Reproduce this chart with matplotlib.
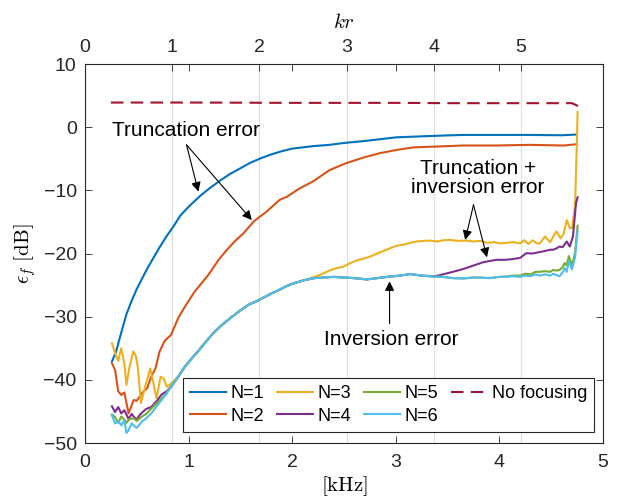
import matplotlib
matplotlib.use("Agg")
import matplotlib.pyplot as plt

plt.rcParams['font.family'] = ['Liberation Sans', 'DejaVu Sans']
plt.rcParams['mathtext.fontset'] = 'cm'

# ---------------- data ----------------
kr_per_khz = 1.188   # kr = kr_per_khz * f[kHz]

f_n1 = [0.26, 0.30, 0.35, 0.40, 0.45, 0.50, 0.55, 0.60, 0.66, 0.72, 0.79, 0.85, 0.92, 1.00,
        1.11, 1.20, 1.30, 1.40, 1.50, 1.60, 1.70, 1.80, 1.90, 2.00, 2.10, 2.20, 2.36, 2.50,
        2.69, 2.85, 3.01, 3.17, 3.33, 3.50, 3.65, 4.00, 4.30, 4.60, 4.74]
e_n1 = [-37.1, -35.5, -32.5, -29.6, -27.5, -25.6, -24.0, -22.4, -20.7, -19.0, -17.2, -15.8, -14.0, -12.6,
        -10.9, -9.7, -8.5, -7.4, -6.5, -5.6, -4.9, -4.3, -3.8, -3.4, -3.2, -3.0, -2.8, -2.5,
        -2.2, -1.9, -1.6, -1.5, -1.4, -1.3, -1.23, -1.23, -1.23, -1.28, -1.17]

f_n2 = [0.26, 0.29, 0.32, 0.35, 0.38, 0.42, 0.47, 0.50, 0.55, 0.60, 0.64, 0.68, 0.72, 0.77,
        0.83, 0.90, 0.965, 1.06, 1.13, 1.19, 1.29, 1.37, 1.45, 1.53, 1.63, 1.75, 1.88, 1.95,
        2.07, 2.20, 2.36, 2.52, 2.69, 2.85, 3.01, 3.17, 3.33, 3.50, 3.65, 3.97, 4.29, 4.62, 4.75]
e_n2 = [-37.4, -38.4, -41.8, -42.4, -42.0, -45.3, -43.2, -43.3, -42.1, -41.3, -39.5, -38.2, -35.5, -33.8,
        -32.9, -30.2, -28.4, -26.0, -24.6, -23.4, -21.0, -19.4, -18.0, -16.8, -14.9, -13.4, -11.5, -11.0,
        -9.7, -8.6, -6.8, -5.7, -4.8, -4.1, -3.6, -3.2, -3.1, -3.0, -2.9, -2.9, -2.8, -2.9, -2.7]

f_n3 = [0.26, 0.29, 0.32, 0.35, 0.38, 0.40, 0.43, 0.466, 0.49, 0.51, 0.54, 0.58, 0.63, 0.66,
        0.69, 0.73, 0.76, 0.79, 0.83, 0.90, 0.965, 1.03, 1.09, 1.17, 1.25, 1.33, 1.42, 1.50,
        1.58, 1.65, 1.71, 1.79, 1.87, 1.94, 2.00, 2.06, 2.12, 2.20, 2.28, 2.36, 2.43, 2.49,
        2.55, 2.62, 2.69, 2.75, 2.82, 2.88, 2.94, 3.00, 3.07, 3.14, 3.20, 3.27, 3.33, 3.40,
        3.46, 3.52, 3.60, 3.68, 3.75, 3.82, 3.88, 3.95, 4.01, 4.07, 4.13, 4.20, 4.24, 4.28,
        4.32, 4.36, 4.39, 4.44, 4.49, 4.52, 4.55, 4.59, 4.62, 4.65, 4.68, 4.70, 4.73, 4.745, 4.755]
e_n3 = [-34.2, -35.8, -37.0, -35.0, -37.5, -40.8, -37.9, -35.5, -36.2, -38.0, -43.7, -41.1, -38.2, -40.5,
        -42.9, -39.5, -39.8, -41.1, -40.6, -39.5, -37.9, -36.6, -35.5, -33.9, -32.4, -31.2, -30.0, -29.0,
        -28.1, -27.6, -27.1, -26.4, -25.8, -25.2, -24.8, -24.5, -24.2, -23.8, -23.3, -22.7, -22.3, -22.1,
        -21.6, -21.1, -20.8, -20.5, -20.0, -19.6, -19.2, -18.8, -18.6, -18.3, -18.1, -18.0, -17.95, -18.1,
        -17.9, -17.85, -18.0, -17.95, -18.1, -18.0, -18.3, -18.2, -18.4, -18.3, -18.2, -18.4, -17.9, -18.5,
        -17.9, -18.4, -18.4, -17.3, -18.2, -17.3, -16.5, -17.6, -16.9, -14.7, -16.0, -16.0, -12.6, -4.0, 2.4]

f_n4 = [0.26, 0.29, 0.32, 0.35, 0.38, 0.42, 0.45, 0.48, 0.50, 0.53, 0.59, 0.64, 0.69, 0.74,
        0.79, 0.84, 0.90, 0.965, 1.03, 1.09, 1.17, 1.25, 1.33, 1.42, 1.50, 1.58, 1.65, 1.71,
        1.79, 1.87, 1.94, 2.00, 2.06, 2.12, 2.21, 2.30, 2.40, 2.50, 2.60, 2.72, 2.82, 2.94,
        3.04, 3.14, 3.25, 3.38, 3.43, 3.48, 3.55, 3.62, 3.68, 3.75, 3.84, 3.90, 3.97, 4.05,
        4.12, 4.20, 4.26, 4.32, 4.38, 4.44, 4.49, 4.52, 4.55, 4.58, 4.61, 4.65, 4.68, 4.71, 4.74, 4.755]
e_n4 = [-44.2, -45.1, -44.3, -45.3, -44.8, -46.2, -45.4, -46.0, -46.3, -45.5, -44.6, -44.3, -43.4, -42.3,
        -41.8, -40.9, -39.5, -37.9, -36.6, -35.5, -33.9, -32.4, -31.2, -30.0, -29.0, -28.1, -27.6, -27.1,
        -26.4, -25.8, -25.2, -24.8, -24.5, -24.2, -23.9, -23.8, -23.7, -23.8, -23.9, -24.1, -23.9, -23.65,
        -23.5, -23.25, -23.5, -23.6, -23.4, -23.2, -22.9, -22.6, -22.3, -21.9, -21.4, -21.2, -21.0, -21.0,
        -20.9, -20.7, -19.95, -20.0, -19.8, -19.6, -19.4, -19.4, -19.2, -18.9, -19.0, -18.1, -18.9, -17.3, -12.0, -11.1]

f_n5 = [0.26, 0.29, 0.32, 0.35, 0.38, 0.40, 0.43, 0.47, 0.50, 0.55, 0.59, 0.66, 0.72, 0.79,
        0.84, 0.90, 0.965, 1.03, 1.09, 1.17, 1.25, 1.33, 1.42, 1.50, 1.58, 1.65, 1.71, 1.79,
        1.87, 1.94, 2.00, 2.06, 2.12, 2.21, 2.30, 2.40, 2.50, 2.60, 2.72, 2.82, 2.94, 3.04,
        3.14, 3.25, 3.36, 3.45, 3.55, 3.65, 3.75, 3.81, 3.90, 4.00, 4.07, 4.13, 4.20, 4.25,
        4.30, 4.35, 4.39, 4.44, 4.49, 4.52, 4.55, 4.58, 4.61, 4.63, 4.65, 4.67, 4.70, 4.73, 4.755]
e_n5 = [-45.5, -45.9, -46.8, -45.8, -46.3, -46.8, -46.2, -46.1, -46.5, -45.8, -45.4, -44.2, -43.3, -42.0,
        -40.9, -39.5, -37.9, -36.6, -35.5, -33.9, -32.4, -31.2, -30.0, -29.0, -28.1, -27.6, -27.1, -26.4,
        -25.8, -25.2, -24.8, -24.5, -24.2, -23.9, -23.8, -23.7, -23.8, -23.9, -24.1, -23.9, -23.65, -23.5,
        -23.25, -23.5, -23.65, -23.7, -23.9, -23.95, -23.8, -23.8, -23.9, -23.7, -23.65, -23.5, -23.5, -23.2,
        -23.3, -22.9, -22.9, -22.8, -22.9, -22.6, -22.7, -22.6, -22.2, -21.5, -21.9, -20.4, -21.9, -19.9, -15.6]

f_n6 = [0.26, 0.29, 0.32, 0.35, 0.38, 0.40, 0.42, 0.45, 0.48, 0.50, 0.55, 0.59, 0.64, 0.69,
        0.74, 0.79, 0.84, 0.90, 0.965, 1.03, 1.09, 1.17, 1.25, 1.33, 1.42, 1.50, 1.58, 1.65,
        1.71, 1.79, 1.87, 1.94, 2.00, 2.06, 2.12, 2.21, 2.30, 2.40, 2.50, 2.60, 2.72, 2.82,
        2.94, 3.04, 3.14, 3.25, 3.36, 3.45, 3.55, 3.65, 3.75, 3.81, 3.90, 4.00, 4.07, 4.13,
        4.20, 4.25, 4.30, 4.35, 4.39, 4.44, 4.49, 4.52, 4.55, 4.58, 4.61, 4.63, 4.65, 4.67,
        4.70, 4.73, 4.755]
e_n6 = [-45.6, -46.9, -46.5, -47.2, -46.4, -48.4, -48.0, -46.9, -47.4, -47.6, -46.6, -46.1, -45.3, -44.2,
        -43.2, -42.1, -40.9, -39.5, -37.9, -36.6, -35.5, -33.9, -32.4, -31.2, -30.0, -29.0, -28.1, -27.6,
        -27.1, -26.4, -25.8, -25.2, -24.8, -24.5, -24.2, -23.9, -23.8, -23.7, -23.8, -23.9, -24.1, -23.9,
        -23.65, -23.5, -23.25, -23.5, -23.65, -23.7, -23.9, -23.95, -23.8, -23.8, -23.9, -23.7, -23.65, -23.6,
        -23.7, -23.5, -23.6, -23.3, -23.5, -23.3, -23.5, -23.2, -23.4, -23.6, -23.0, -22.3, -22.9, -21.2,
        -22.5, -20.6, -16.4]

f_nofocus = [0.25, 1.0, 2.0, 3.0, 3.5, 4.0, 4.5, 4.70, 4.76]
e_nofocus = [3.9, 3.9, 3.85, 3.85, 3.8, 3.8, 3.8, 3.8, 3.35]

labels = ['N=1', 'N=2', 'N=3', 'N=4', 'N=5', 'N=6', 'No focusing']
colors = ['#0072BD', '#D95319', '#EDB120', '#7E2F8E', '#77AC30', '#4DBEEE', '#A2142F']

x_ticks = [0, 1, 2, 3, 4, 5]
kr_ticks = [0, 1, 2, 3, 4, 5]
y_ticks = [-50, -40, -30, -20, -10, 0, 10]

# ---------------- figure ----------------
fig = plt.figure(figsize=(6.21, 5.04), dpi=100)
ax = fig.add_axes([0.1369, 0.121, 0.8341, 0.752])
ax2 = ax.twiny()
ax.set_zorder(ax2.get_zorder() + 1)
ax.patch.set_visible(False)

series = [(f_n1, e_n1), (f_n2, e_n2), (f_n3, e_n3), (f_n4, e_n4), (f_n5, e_n5), (f_n6, e_n6)]
for (fx, ey), lab, col in zip(series, labels[:6], colors[:6]):
    ax.plot(fx, ey, color=col, lw=1.5, label=lab)
ax.plot(f_nofocus, e_nofocus, color=colors[6], lw=1.5, ls=(0, (6, 3.5)), label=labels[6])

ax.set_xlim(0, 5)
ax.set_ylim(-50, 10)
ax.set_xticks(x_ticks)
ax.set_yticks(y_ticks)
ax.tick_params(direction='in', length=5, width=0.6, top=True, right=True,
               labelsize=14, pad=6, colors='#262626')
ax.tick_params(axis='x', pad=8)
for s in ax.spines.values():
    s.set_color('#262626')
    s.set_linewidth(0.8)

ax2.set_xlim(0, 5 * kr_per_khz)
ax2.set_xticks(kr_ticks)
ax2.tick_params(direction='in', length=5, width=0.6, labelsize=14, pad=6, colors='#262626')
ax2.xaxis.grid(True, color='#dedede', lw=0.8)
for s in ax2.spines.values():
    s.set_visible(False)

ax.set_xlabel(r'$[\mathrm{kHz}]$', fontsize=15, labelpad=2)
ax.set_ylabel(r'$\epsilon_f\ [\mathrm{dB}]$', fontsize=15, labelpad=4)
ax2.set_xlabel(r'$kr$', fontsize=15, labelpad=8)

leg = ax.legend(ncol=4, loc='lower right', bbox_to_anchor=(0.983, 0.029), fontsize=13,
                handlelength=2.0, handletextpad=0.25, columnspacing=0.7, labelspacing=0.3,
                borderpad=0.4, borderaxespad=0, fancybox=False, framealpha=1,
                edgecolor='#262626')
leg.get_frame().set_linewidth(0.8)

arrow = dict(arrowstyle='-|>', color='k', lw=0.8, mutation_scale=14, shrinkA=0, shrinkB=0)
ax.text(0.26, -0.45, 'Truncation error', fontsize=15, ha='left', va='center')
ax.annotate('', xy=(1.094, -10.2), xytext=(0.98, -2.8), arrowprops=arrow)
ax.annotate('', xy=(1.61, -14.7), xytext=(0.98, -2.8), arrowprops=arrow)

ax.text(3.79, -8.1, 'Truncation +\ninversion error', fontsize=15, ha='center', va='center',
        linespacing=1.0)
ax.annotate('', xy=(3.67, -17.85), xytext=(3.75, -12.3), arrowprops=arrow)
ax.annotate('', xy=(3.88, -20.6), xytext=(3.75, -12.3), arrowprops=arrow)

ax.text(2.96, -33.6, 'Inversion error', fontsize=15, ha='center', va='center')
ax.annotate('', xy=(2.94, -24.4), xytext=(2.94, -31.1), arrowprops=arrow)

fig.savefig('out.png', dpi=100)
